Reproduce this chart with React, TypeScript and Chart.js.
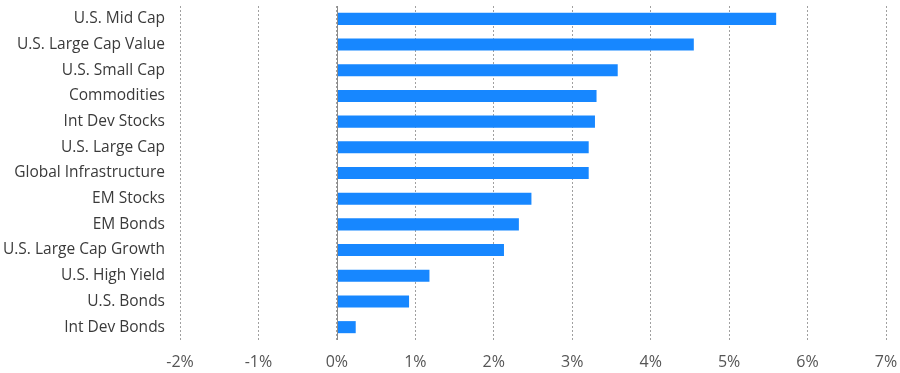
import React, { useEffect, useRef } from "react";
import { Chart, registerables } from "chart.js";

Chart.register(...registerables);

const categories = [
  "U.S. Mid Cap",
  "U.S. Large Cap Value",
  "U.S. Small Cap",
  "Commodities",
  "Int Dev Stocks",
  "U.S. Large Cap",
  "Global Infrastructure",
  "EM Stocks",
  "EM Bonds",
  "U.S. Large Cap Growth",
  "U.S. High Yield",
  "U.S. Bonds",
  "Int Dev Bonds",
];

const returns = [5.6, 4.55, 3.58, 3.31, 3.29, 3.21, 3.21, 2.48, 2.32, 2.13, 1.18, 0.92, 0.24];

const xMin = -2;
const xMax = 7;

const zeroLine = {
  id: "zeroLine",
  afterDatasetsDraw(chart: any) {
    const x = chart.scales.x;
    const area = chart.chartArea;
    const px = Math.round(x.getPixelForValue(0)) + 0.5;
    const ctx = chart.ctx;
    ctx.save();
    ctx.strokeStyle = "#8a8a8a";
    ctx.lineWidth = 1;
    ctx.beginPath();
    ctx.moveTo(px, area.top);
    ctx.lineTo(px, area.bottom);
    ctx.stroke();
    ctx.restore();
  },
};

export default function App() {
  const ref = useRef<HTMLCanvasElement>(null);
  useEffect(() => {
    if (!ref.current) return;
    const chart = new Chart(ref.current, {
      type: "bar",
      data: {
        labels: categories,
        datasets: [
          {
            data: returns,
            backgroundColor: "#1787ff",
            borderWidth: 0,
            barPercentage: 0.47,
            categoryPercentage: 1,
          },
        ],
      },
      options: {
        indexAxis: "y",
        animation: false,
        responsive: false,
        maintainAspectRatio: false,
        layout: { padding: { top: 6, right: 14, left: 0, bottom: 0 } },
        plugins: { legend: { display: false }, tooltip: { enabled: false } },
        scales: {
          x: {
            min: xMin,
            max: xMax,
            ticks: {
              stepSize: 1,
              padding: 13,
              color: "#555555",
              font: { family: "'Open Sans'", size: 16 },
              callback: (v: any) => `${v}%`,
            },
            grid: { color: "#a0a0a0", lineWidth: 1, drawTicks: false },
            border: { display: false, dash: [2, 2] },
            afterFit: (s: any) => {
              s.height = 33;
              s.paddingLeft = 0;
              s.paddingRight = 0;
            },
          },
          y: {
            ticks: {
              padding: 15,
              color: "#3a3a3a",
              font: { family: "'Open Sans'", size: 15.5 },
            },
            grid: { display: false, drawTicks: false },
            border: { display: false },
            afterFit: (s: any) => {
              s.width = 180;
              s.paddingTop = 0;
              s.paddingBottom = 0;
            },
          },
        },
      },
      plugins: [zeroLine],
    });
    return () => chart.destroy();
  }, []);
  return (
    <div style={{ position: "fixed", left: 0, top: 0, width: 900, height: 373, background: "#fff" }}>
      <canvas ref={ref} width={900} height={373} style={{ display: "block" }} />
    </div>
  );
}
